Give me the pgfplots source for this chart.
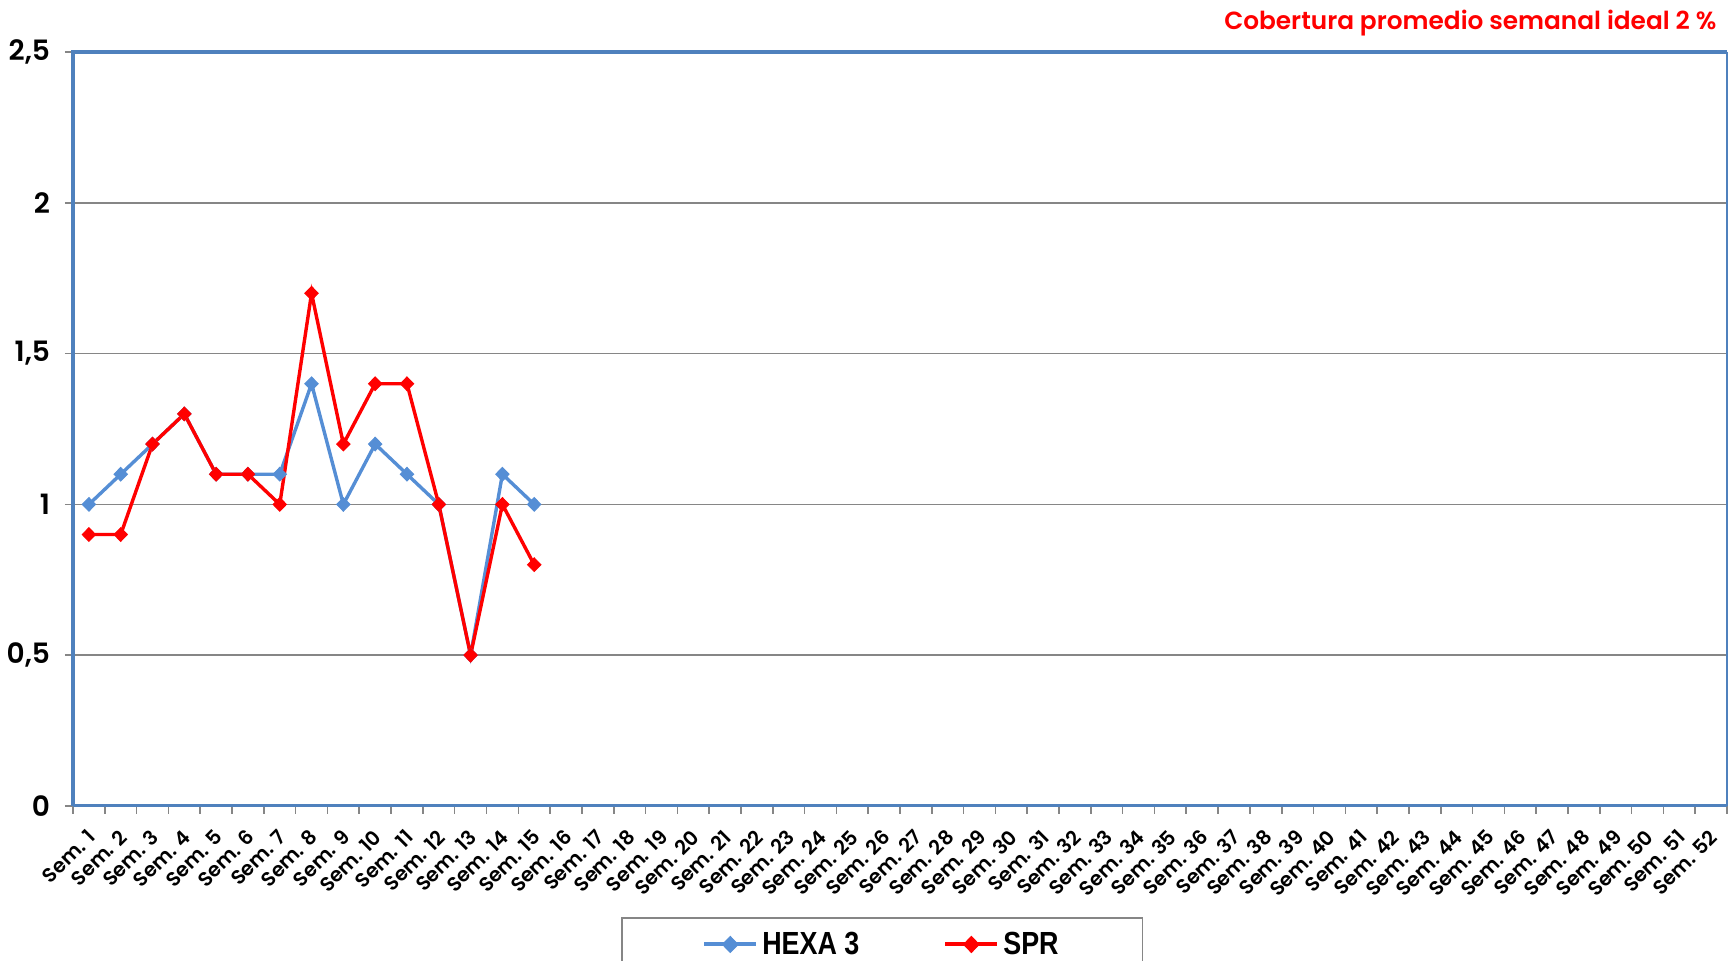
\documentclass[border=0pt]{standalone}
\usepackage{pgfplots}
\pgfplotsset{compat=1.18}
\usepackage{fontspec}
\setmainfont{Poppins}[BoldFont={Poppins SemiBold}]
\newfontfamily\legfont{Liberation Sans Bold}[FakeStretch=0.84]
\definecolor{hexa}{RGB}{85,142,213}
\definecolor{axblue}{RGB}{79,129,189}
\definecolor{gridgray}{RGB}{134,134,134}
\begin{document}
\begin{tikzpicture}
\begin{axis}[
  scale only axis, width=827pt, height=377pt,
  xmin=0.5, xmax=52.5, ymin=0, ymax=2.5,
  clip=false,
  xtick={1,...,52},
  xticklabels={Sem. 1,Sem. 2,Sem. 3,Sem. 4,Sem. 5,Sem. 6,Sem. 7,Sem. 8,Sem. 9,Sem. 10,Sem. 11,Sem. 12,Sem. 13,Sem. 14,Sem. 15,Sem. 16,Sem. 17,Sem. 18,Sem. 19,Sem. 20,Sem. 21,Sem. 22,Sem. 23,Sem. 24,Sem. 25,Sem. 26,Sem. 27,Sem. 28,Sem. 29,Sem. 30,Sem. 31,Sem. 32,Sem. 33,Sem. 34,Sem. 35,Sem. 36,Sem. 37,Sem. 38,Sem. 39,Sem. 40,Sem. 41,Sem. 42,Sem. 43,Sem. 44,Sem. 45,Sem. 46,Sem. 47,Sem. 48,Sem. 49,Sem. 50,Sem. 51,Sem. 52},
  minor xtick={0.5,1.5,...,52.5},
  ytick={0,0.5,1,1.5,2,2.5},
  ymajorgrids, xmajorgrids=false, xminorgrids=false,
  grid style={gridgray, line width=0.8pt},
  axis line style={draw=none},
  tick pos=left, tick align=outside,
  major tick length=4pt, minor tick length=4pt,
  major x tick style={draw=none},
  minor x tick style={draw=gridgray, line width=0.8pt},
  major y tick style={draw=gridgray, line width=0.8pt},
  /pgf/number format/.cd, use comma, assume math mode=true,
  /pgfplots/.cd,
  yticklabel style={font=\bfseries\fontsize{14}{14}\selectfont, xshift=-4pt},
  xticklabel style={yshift=-9pt, xshift=2pt, rotate=45, anchor=east, inner sep=1pt, font=\bfseries\fontsize{10}{10}\selectfont},
  legend columns=2,
  legend style={at={(0.4894,0)}, anchor=north, yshift=-55.5pt, draw=gridgray, line width=0.8pt,
    font=\legfont\fontsize{16}{16}\selectfont, inner xsep=40pt, inner ysep=5pt,
    /tikz/every even column/.append style={column sep=40pt}},
  legend image code/.code={\draw[line width=2pt] (0pt,0pt) -- (26pt,0pt); \draw[mark repeat=2, mark phase=2, mark size=4pt] plot coordinates {(0pt,0pt) (13pt,0pt) (26pt,0pt)};},
]
\addplot[hexa, line width=1.7pt, mark=diamond*, mark size=3.4pt, mark options={xscale=1.3, line width=0.5pt}]
  coordinates {(1,1) (2,1.1) (3,1.2) (4,1.3) (5,1.1) (6,1.1) (7,1.1) (8,1.4) (9,1) (10,1.2) (11,1.1) (12,1) (13,0.5) (14,1.1) (15,1)};
\addlegendentry{HEXA 3}
\addplot[red, line width=1.7pt, mark=diamond*, mark size=3.4pt, mark options={xscale=1.3, line width=0.5pt}]
  coordinates {(1,0.9) (2,0.9) (3,1.2) (4,1.3) (5,1.1) (6,1.1) (7,1) (8,1.7) (9,1.2) (10,1.4) (11,1.4) (12,1) (13,0.5) (14,1) (15,0.8)};
\addlegendentry{SPR}
\draw[axblue, line width=1.5pt] (rel axis cs:0,0) -- (rel axis cs:1,0);
\draw[axblue, line width=0.8pt] (rel axis cs:1,0) -- (rel axis cs:1,1);
\draw[axblue, line width=1.9pt] (rel axis cs:0,0) -- (rel axis cs:0,1) -- (rel axis cs:1,1);
\coordinate (ll) at (rel axis cs:0,0);
\coordinate (ur) at (rel axis cs:1,1);
\end{axis}
\node[anchor=east, text=red, font=\bfseries\fontsize{12.4}{12.4}\selectfont] at ([xshift=-1.8pt, yshift=14.4pt]ur) {Cobertura promedio semanal ideal 2~\%};
\pgfresetboundingbox
\path[use as bounding box] ([xshift=-36.5pt,yshift=-77.5pt]ll) rectangle ([xshift=1pt,yshift=26pt]ur);
\end{tikzpicture}
\end{document}
